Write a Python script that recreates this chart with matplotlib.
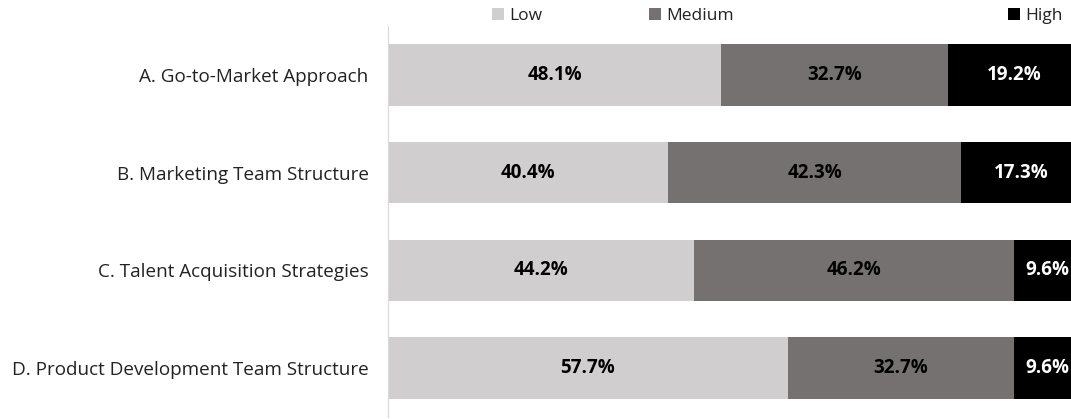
import matplotlib.pyplot as plt
from matplotlib.patches import Patch

categories = ["A. Go-to-Market Approach",
              "B. Marketing Team Structure",
              "C. Talent Acquisition Strategies",
              "D. Product Development Team Structure"]
low = [48.1, 40.4, 44.2, 57.7]
medium = [32.7, 42.3, 46.2, 32.7]
high = [19.2, 17.3, 9.6, 9.6]

series = [("Low", low, "#D0CECE", "black"),
          ("Medium", medium, "#767171", "black"),
          ("High", high, "#000000", "white")]

plt.rcParams['font.family'] = ['Open Sans', 'DejaVu Sans']

fig = plt.figure(figsize=(10.71, 4.19), dpi=100)
# the original is cropped on the right, so the axes run past the figure edge
ax = fig.add_axes([388 / 1071, 2 / 419, 693 / 1071, 391 / 419])

ypos = list(range(len(categories)))
left = [0] * len(categories)
for name, vals, col, tcol in series:
    bars = ax.barh(ypos, vals, left=left, height=0.63, color=col, label=name)
    for b, v in zip(bars, vals):
        ax.text(b.get_x() + b.get_width() / 2, b.get_y() + b.get_height() / 2,
                f"{v:.1f}%", ha="center", va="center", color=tcol,
                fontsize=13.5, fontweight="bold")
    left = [l + v for l, v in zip(left, vals)]

ax.set_xlim(0, 100)
ax.set_ylim(3.5, -0.5)
ax.set_yticks(ypos)
ax.set_yticklabels(categories, fontsize=13.6, color="#222222")
ax.tick_params(axis="y", length=0, pad=14)
ax.set_xticks([])
for s in ["top", "right", "bottom"]:
    ax.spines[s].set_visible(False)
ax.spines["left"].set_color("#D9D9D9")

# legend entries spaced like the original
legend_x = [492, 649, 1008]
for (name, vals, col, tcol), lx in zip(series, legend_x):
    lg = fig.legend(handles=[Patch(facecolor=col, label=name)],
                    loc="center left", bbox_to_anchor=(lx / 1071, 1 - 16 / 419),
                    frameon=False, fontsize=12.5, handlelength=0.7, handleheight=0.7,
                    handletextpad=0.3, borderpad=0, borderaxespad=0)
    for t in lg.get_texts():
        t.set_color("#222222")

fig.savefig("out.png", dpi=100)
